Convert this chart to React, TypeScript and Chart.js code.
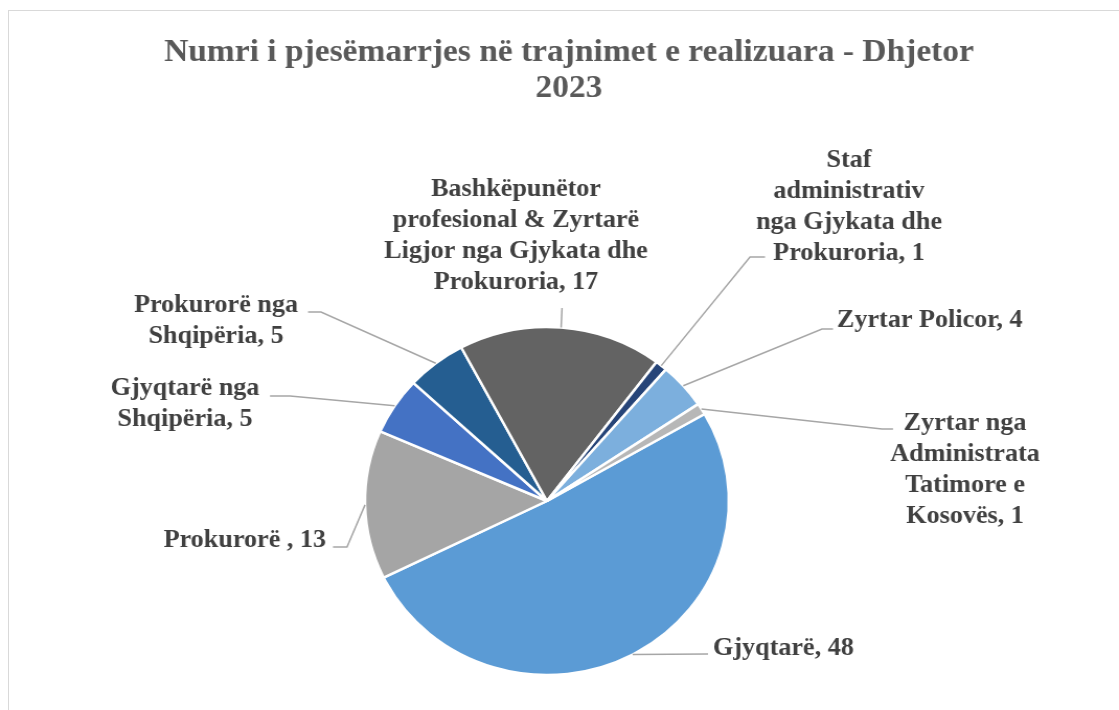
import React, { useEffect, useRef } from "react";
import { Chart, registerables } from "chart.js";

Chart.register(...registerables);

// ---- data ----
const categories = [
  "Gjyqtarë",
  "Prokurorë ",
  "Gjyqtarë nga Shqipëria",
  "Prokurorë nga Shqipëria",
  "Bashkëpunëtor profesional & Zyrtarë Ligjor nga Gjykata dhe Prokuroria",
  "Staf administrativ nga Gjykata dhe Prokuroria",
  "Zyrtar Policor",
  "Zyrtar nga Administrata Tatimore e Kosovës",
];
const values = [48, 13, 5, 5, 17, 1, 4, 1];
const sliceColors = [
  "#5B9BD5",
  "#A5A5A5",
  "#4472C4",
  "#255E91",
  "#636363",
  "#264478",
  "#7CAFDD",
  "#B7B7B7",
];
const titleLines = [
  "Numri i pjesëmarrjes në trajnimet e realizuara - Dhjetor",
  "2023",
];

// ---- layout (reference pixel coordinates) ----
const CANVAS_W = 1070;
const CANVAS_H = 710;
const SX = 1119 / CANVAS_W; // horizontal stretch of the reference picture
const FONT = "'Liberation Serif', 'Times New Roman', serif";
const LABEL_LH = 31;

type Layout = {
  align: CanvasTextAlign;
  x: number;
  y: number;
  wrap: number;
  leader: number[][];
};
const labelLayout: Layout[] = [
  { align: "left", x: 713, y: 655, wrap: 600, leader: [[708, 654]] },
  { align: "right", x: 326, y: 547, wrap: 600, leader: [[347, 547], [333, 547]] },
  { align: "center", x: 185, y: 395, wrap: 170, leader: [[290, 396], [270, 396]] },
  { align: "center", x: 216, y: 312, wrap: 170, leader: [[321, 312], [308, 312]] },
  { align: "center", x: 516, y: 196, wrap: 270, leader: [[562, 308]] },
  { align: "center", x: 849, y: 167, wrap: 185, leader: [[750, 257], [765, 257]] },
  { align: "left", x: 837, y: 327, wrap: 600, leader: [[822, 329], [833, 329]] },
  { align: "center", x: 965, y: 430, wrap: 150, leader: [[882, 429], [893, 429]] },
];

function wrapText(ctx: CanvasRenderingContext2D, text: string, maxW: number) {
  const words = text.split(" ");
  const lines: string[] = [];
  let cur = "";
  for (const w of words) {
    const test = cur ? cur + " " + w : w;
    if (cur && ctx.measureText(test).width > maxW) {
      lines.push(cur);
      cur = w;
    } else {
      cur = test;
    }
  }
  if (cur) lines.push(cur);
  return lines;
}

const labelPlugin = {
  id: "excelLabels",
  afterDraw(chart: any) {
    const ctx: CanvasRenderingContext2D = chart.ctx;
    const meta = chart.getDatasetMeta(0);
    ctx.save();
    // title
    ctx.fillStyle = "#595959";
    ctx.font = `bold 32px ${FONT}`;
    ctx.textAlign = "center";
    ctx.textBaseline = "alphabetic";
    titleLines.forEach((t, i) => ctx.fillText(t, 569 / SX, 61 + i * 36));

    // labels + leader lines
    ctx.font = `bold 25px ${FONT}`;
    meta.data.forEach((arc: any, i: number) => {
      const p = arc.getProps(["x", "y", "startAngle", "endAngle", "outerRadius"], true);
      const mid = (p.startAngle + p.endAngle) / 2;
      const px = p.x + Math.cos(mid) * p.outerRadius;
      const py = p.y + Math.sin(mid) * p.outerRadius;
      const L = labelLayout[i];
      ctx.strokeStyle = "#a6a6a6";
      ctx.lineWidth = 1.5;
      ctx.beginPath();
      ctx.moveTo(px, py);
      L.leader.forEach(([lx, ly]) => ctx.lineTo(lx / SX, ly));
      ctx.stroke();

      const lines = wrapText(ctx, `${categories[i]}, ${values[i]}`, L.wrap);
      ctx.fillStyle = "#404040";
      ctx.textAlign = L.align;
      lines.forEach((ln, j) => ctx.fillText(ln, L.x / SX, L.y + j * LABEL_LH));
    });
    ctx.restore();
  },
};

export default function App() {
  const ref = useRef<HTMLCanvasElement>(null);
  useEffect(() => {
    document.body.style.overflow = "hidden";
    const chart = new Chart(ref.current as HTMLCanvasElement, {
      type: "pie",
      data: {
        labels: categories,
        datasets: [
          {
            data: values,
            backgroundColor: sliceColors,
            borderColor: "#ffffff",
            borderWidth: 2.5,
            hoverOffset: 0,
            radius: 174,
          } as any,
        ],
      },
      options: {
        responsive: false,
        animation: false,
        events: [],
        rotation: 60,
        layout: { padding: { left: 349, right: 373, top: 327, bottom: 35 } },
        plugins: {
          legend: { display: false },
          tooltip: { enabled: false },
          title: { display: false },
        },
      } as any,
      plugins: [labelPlugin],
    });
    return () => chart.destroy();
  }, []);
  return (
    <>
      <div
        style={{
          position: "fixed",
          left: 8,
          top: 10,
          width: 1400,
          height: 1000,
          borderTop: "1px solid #d9d9d9",
          borderLeft: "1px solid #d9d9d9",
          boxSizing: "border-box",
        }}
      />
      <canvas
        ref={ref}
        width={CANVAS_W}
        height={CANVAS_H}
        style={{ position: "fixed", left: 0, top: 0, width: "1119px", height: "710px" }}
      />
    </>
  );
}
